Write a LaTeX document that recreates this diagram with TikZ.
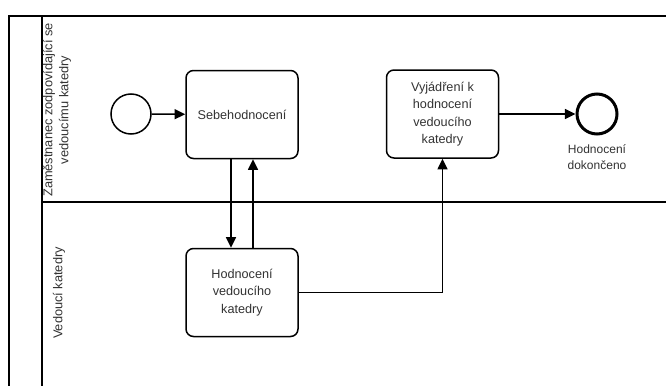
\documentclass[tikz,border=0pt]{standalone}
\usepackage{fontspec}
\setmainfont{Liberation Sans}
\usetikzlibrary{arrows.meta}
\definecolor{txt}{HTML}{333333}
\tikzset{
  task/.style={draw=black, line width=1.5pt*0.75, rounded corners=7.5pt*0.75, minimum width=112*0.75pt, minimum height=88*0.75pt, inner sep=0pt, align=center, text=txt, font=\fontsize{9.5}{13}\selectfont},
  startev/.style={draw=black, circle, line width=1.5pt*0.75, minimum size=40*0.75pt, inner sep=0pt},
  endev/.style={draw=black, circle, line width=3pt*0.75, minimum size=40*0.75pt, inner sep=0pt},
  flow/.style={draw=black, line width=1.5pt*0.75, -{Triangle[length=8pt, width=7.5pt]}},
  lanetxt/.style={text=txt, font=\fontsize{9.6}{12}\selectfont, align=center, rotate=90},
  lbl/.style={text=txt, font=\fontsize{9}{12}\selectfont, align=center},
  pool/.style={draw=black, line width=1.5pt*0.75}
}
\begin{document}
\begin{tikzpicture}[x=0.75pt, y=-0.75pt]
\useasboundingbox (0,0) rectangle (666,385);
\fill[white] (0,0) rectangle (666,385);
% pool and lanes
\draw[pool] (9,390) -- (9,16) -- (670,16);
\draw[pool] (42,16) -- (42,390);
\draw[pool] (42,202) -- (670,202);
\node[lanetxt] (l1) at (57,110) {Zaměstnanec zodpovídající se\\vedoucímu katedry};
\node[lanetxt] (l2) at (59,293) {Vedoucí katedry};
% nodes
\node[startev] (s) at (131,114) {};
\node[task] (t1) at (242,114.5) {Sebehodnocení};
\node[task] (t2) at (442.5,114) {Vyjádření k\\hodnocení\\vedoucího\\katedry};
\node[endev] (e) at (597,114) {};
\node[lbl, anchor=north] (el) at (597,140) {Hodnocení\\dokončeno};
\node[task] (t3) at (242,292.5) {Hodnocení\\vedoucího\\katedry};
% flows
\draw[flow] (s) -- (t1);
\draw[flow] (t1.south -| 231,0) -- (t3.north -| 231,0);
\draw[flow] (t3.north -| 253,0) -- (t1.south -| 253,0);
\draw[flow] (t3.east) -| (t2.south);
\draw[flow] (t2) -- (e);
\end{tikzpicture}
\end{document}
